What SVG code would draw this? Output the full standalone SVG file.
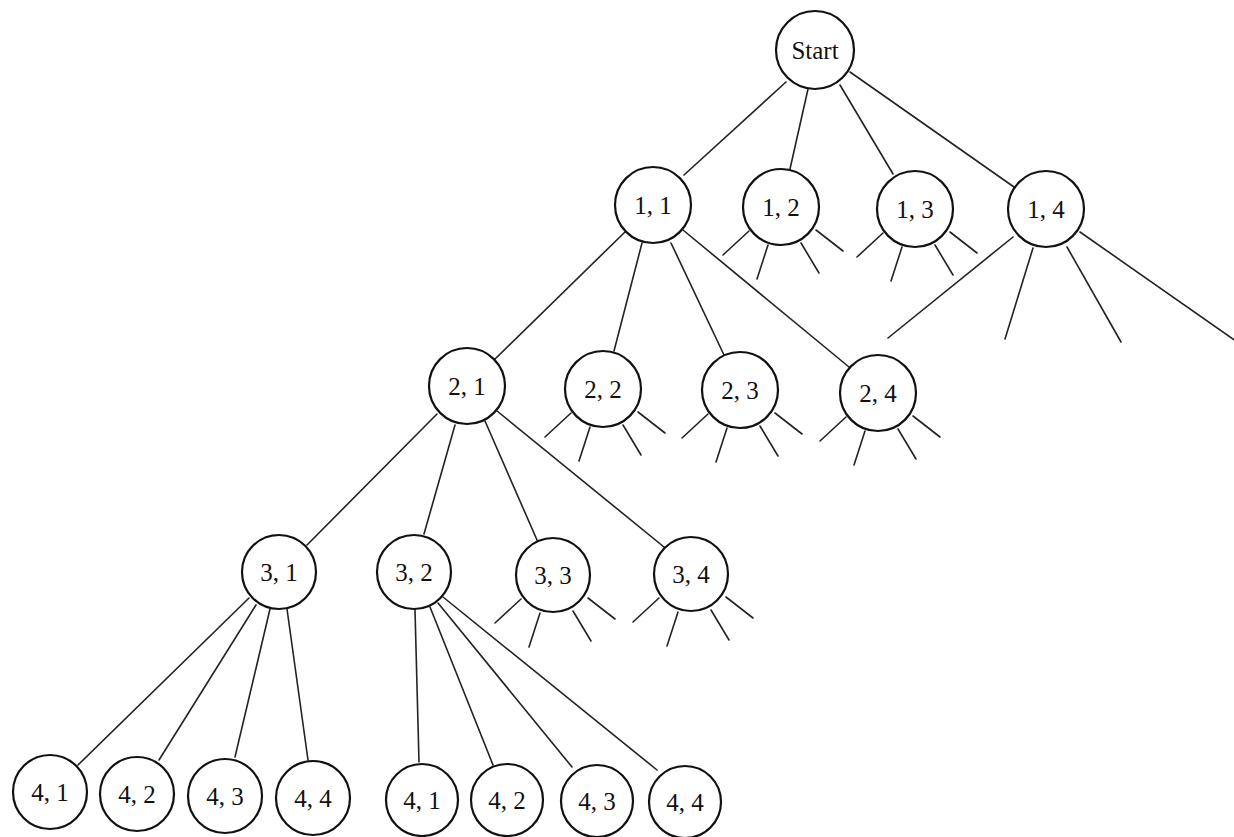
<svg xmlns="http://www.w3.org/2000/svg" width="1234" height="837" viewBox="0 0 1234 837">
<style>
.n circle{fill:#fff;stroke:#111;stroke-width:2.2}
.n text{font-family:"Liberation Serif","Times New Roman",serif;font-size:25px;fill:#111;text-anchor:middle;dominant-baseline:central}
#edges line{stroke:#222;stroke-width:1.6;stroke-linecap:round}
</style>
<rect width="1234" height="837" fill="#fff"/>
<g id="edges">
<line x1="786" y1="82" x2="684" y2="175"/>
<line x1="808" y1="89" x2="790" y2="169"/>
<line x1="840" y1="85" x2="893" y2="174"/>
<line x1="850" y1="72" x2="1014" y2="187"/>
<line x1="626" y1="231" x2="495" y2="359"/>
<line x1="642" y1="243" x2="614" y2="351"/>
<line x1="671" y1="243" x2="724" y2="355"/>
<line x1="683" y1="230" x2="849" y2="367"/>
<line x1="1013" y1="237" x2="888" y2="338"/>
<line x1="1033" y1="248" x2="1005" y2="339"/>
<line x1="1067" y1="247" x2="1121" y2="342"/>
<line x1="1080" y1="232" x2="1240" y2="344"/>
<line x1="437" y1="414" x2="307" y2="545"/>
<line x1="455" y1="425" x2="424" y2="534"/>
<line x1="485" y1="421" x2="537" y2="540"/>
<line x1="497" y1="411" x2="664" y2="547"/>
<line x1="249" y1="598" x2="78" y2="765"/>
<line x1="256" y1="605" x2="159" y2="760"/>
<line x1="270" y1="609" x2="235" y2="757"/>
<line x1="287" y1="609" x2="308" y2="760"/>
<line x1="415" y1="610" x2="419" y2="762"/>
<line x1="430" y1="607" x2="493" y2="765"/>
<line x1="438" y1="603" x2="572" y2="767"/>
<line x1="443" y1="597" x2="657" y2="770"/>
<g transform="translate(781,207)"><line x1="-32" y1="24" x2="-58" y2="48"/><line x1="-13" y1="38" x2="-24" y2="72"/><line x1="20" y1="36" x2="38" y2="66"/><line x1="35" y1="23" x2="62" y2="44"/></g>
<g transform="translate(915,209)"><line x1="-32" y1="24" x2="-58" y2="48"/><line x1="-13" y1="38" x2="-24" y2="72"/><line x1="20" y1="36" x2="38" y2="66"/><line x1="35" y1="23" x2="62" y2="44"/></g>
<g transform="translate(603,389)"><line x1="-32" y1="24" x2="-58" y2="48"/><line x1="-13" y1="38" x2="-24" y2="72"/><line x1="20" y1="36" x2="38" y2="66"/><line x1="35" y1="23" x2="62" y2="44"/></g>
<g transform="translate(740,390)"><line x1="-32" y1="24" x2="-58" y2="48"/><line x1="-13" y1="38" x2="-24" y2="72"/><line x1="20" y1="36" x2="38" y2="66"/><line x1="35" y1="23" x2="62" y2="44"/></g>
<g transform="translate(878,393)"><line x1="-32" y1="24" x2="-58" y2="48"/><line x1="-13" y1="38" x2="-24" y2="72"/><line x1="20" y1="36" x2="38" y2="66"/><line x1="35" y1="23" x2="62" y2="44"/></g>
<g transform="translate(553,575)"><line x1="-32" y1="24" x2="-58" y2="48"/><line x1="-13" y1="38" x2="-24" y2="72"/><line x1="20" y1="36" x2="38" y2="66"/><line x1="35" y1="23" x2="62" y2="44"/></g>
<g transform="translate(691,574)"><line x1="-32" y1="24" x2="-58" y2="48"/><line x1="-13" y1="38" x2="-24" y2="72"/><line x1="20" y1="36" x2="38" y2="66"/><line x1="35" y1="23" x2="62" y2="44"/></g>
</g>
<g id="n-start" class="n"><circle cx="815" cy="50" r="39"/><text x="815" y="50">Start</text></g>
<g id="n-1-1" class="n"><circle cx="653" cy="205" r="38"/><text x="653" y="205">1, 1</text></g>
<g id="n-1-2" class="n"><circle cx="781" cy="207" r="38"/><text x="781" y="207">1, 2</text></g>
<g id="n-1-3" class="n"><circle cx="915" cy="209" r="38"/><text x="915" y="209">1, 3</text></g>
<g id="n-1-4" class="n"><circle cx="1046" cy="209" r="38"/><text x="1046" y="209">1, 4</text></g>
<g id="n-2-1" class="n"><circle cx="467" cy="386" r="38"/><text x="467" y="386">2, 1</text></g>
<g id="n-2-2" class="n"><circle cx="603" cy="389" r="38"/><text x="603" y="389">2, 2</text></g>
<g id="n-2-3" class="n"><circle cx="740" cy="390" r="38"/><text x="740" y="390">2, 3</text></g>
<g id="n-2-4" class="n"><circle cx="878" cy="393" r="38"/><text x="878" y="393">2, 4</text></g>
<g id="n-3-1" class="n"><circle cx="279" cy="572" r="37"/><text x="279" y="572">3, 1</text></g>
<g id="n-3-2" class="n"><circle cx="414" cy="572" r="37"/><text x="414" y="572">3, 2</text></g>
<g id="n-3-3" class="n"><circle cx="553" cy="575" r="37"/><text x="553" y="575">3, 3</text></g>
<g id="n-3-4" class="n"><circle cx="691" cy="574" r="37"/><text x="691" y="574">3, 4</text></g>
<g id="n-4-1a" class="n"><circle cx="50" cy="792" r="37"/><text x="50" y="792">4, 1</text></g>
<g id="n-4-2a" class="n"><circle cx="137" cy="794" r="37"/><text x="137" y="794">4, 2</text></g>
<g id="n-4-3a" class="n"><circle cx="225" cy="796" r="37"/><text x="225" y="796">4, 3</text></g>
<g id="n-4-4a" class="n"><circle cx="313" cy="798" r="37"/><text x="313" y="798">4, 4</text></g>
<g id="n-4-1b" class="n"><circle cx="422" cy="800" r="36"/><text x="422" y="800">4, 1</text></g>
<g id="n-4-2b" class="n"><circle cx="507" cy="800" r="36"/><text x="507" y="800">4, 2</text></g>
<g id="n-4-3b" class="n"><circle cx="597" cy="801" r="36"/><text x="597" y="801">4, 3</text></g>
<g id="n-4-4b" class="n"><circle cx="685" cy="802" r="36"/><text x="685" y="802">4, 4</text></g>
</svg>
